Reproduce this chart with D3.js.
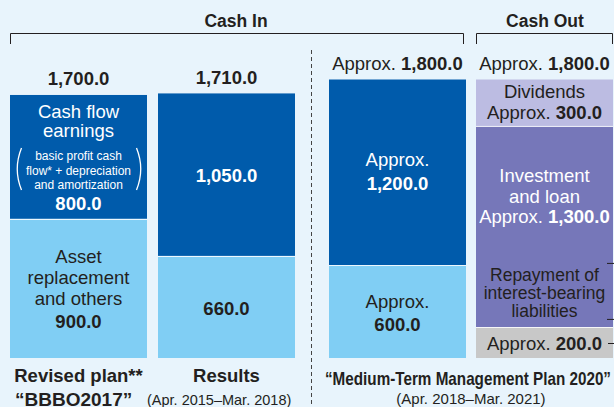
<!DOCTYPE html>
<html>
<head lang="en">
    <meta charset="UTF-8">
    <title>Cash In / Cash Out</title>
    <style>
        body { margin: 0; background: #e8f4fc; }
        svg { display: block; font-family: "Liberation Sans", Arial, Helvetica, sans-serif; }
    </style>
</head>
<body>
<svg width="614" height="407"></svg>

<script src="https://cdn.jsdelivr.net/npm/d3@7"></script>
<script>
    // columns: revised plan, results, MTP 2020 cash in, MTP 2020 cash out
    var columns = ["plan", "results", "mtpIn", "mtpOut"];
    var totals = [1700, 1710, 1800, 1800];
    var approx = [false, false, true, true];
    // cash in stacks (bottom: asset replacement, top: cash flow earnings)
    var assetReplacement = [900, 660, 600];
    var earnings = [800, 1050, 1200];
    // cash out stack, from top to bottom
    var outItems = ["Dividends", "Investment and loan", "Repayment"];
    var outValues = [300, 1300, 200];

    var ink = "#231f20";
    var fmt = d3.format(",.1f");

    var svg = d3.select("svg");

    var y = d3.scaleLinear().domain([0, 1800]).range([358, 79.5]);
    var x = d3.scaleOrdinal().domain(columns).range([10, 158, 329, 476]);
    var barW = 137;
    function cx(c) { return x(c) + barW / 2; }

    // build segments
    var segments = [];
    columns.slice(0, 3).forEach(function (c, i) {
        segments.push({col: c, y0: 0, y1: assetReplacement[i], color: "#80cef4"});
        segments.push({col: c, y0: assetReplacement[i], y1: assetReplacement[i] + earnings[i], color: "#005bab"});
    });
    var outColors = ["#bcbce2", "#7677b9", "#c8c8c8"];
    var acc = 0;
    for (var k = outValues.length - 1; k >= 0; k--) {
        segments.push({col: "mtpOut", y0: acc, y1: acc + outValues[k], color: outColors[k]});
        acc += outValues[k];
    }

    svg.selectAll("rect.seg")
        .data(segments)
        .enter()
        .append("rect")
        .attr("class", "seg")
        .attr("x", function (d) { return x(d.col); })
        .attr("y", function (d) { return y(d.y1); })
        .attr("width", barW)
        .attr("height", function (d) { return y(d.y0) - y(d.y1); })
        .attr("fill", function (d) { return d.color; });

    // white separators between stacked parts
    svg.selectAll("line.sep")
        .data(segments.filter(function (d) { return d.y0 > 0; }))
        .enter()
        .append("line")
        .attr("x1", function (d) { return x(d.col); })
        .attr("x2", function (d) { return x(d.col) + barW; })
        .attr("y1", function (d) { return Math.round(y(d.y0)) + 0.5; })
        .attr("y2", function (d) { return Math.round(y(d.y0)) + 0.5; })
        .attr("stroke", "#fff")
        .attr("stroke-opacity", 0.85);

    // text helper: "|" toggles bold
    function label(xc, yb, str, size, fill, anchor) {
        var t = svg.append("text")
            .attr("x", xc).attr("y", yb)
            .attr("text-anchor", anchor || "middle")
            .attr("font-size", size)
            .attr("fill", fill || ink);
        str.split("|").forEach(function (s, i) {
            if (s === "") return;
            t.append("tspan").attr("font-weight", i % 2 ? "bold" : "normal").text(s);
        });
        return t;
    }

    // headers + brackets
    label(236, 27, "|Cash In", 17.5);
    label(545, 27, "|Cash Out", 17.5);
    svg.append("path").attr("d", "M10.5,44V33.5H463.5V44").attr("fill", "none").attr("stroke", ink);
    svg.append("path").attr("d", "M476.5,44V33.5H612.5V44").attr("fill", "none").attr("stroke", ink);

    // dashed divider
    svg.append("line")
        .attr("x1", 311.5).attr("x2", 311.5).attr("y1", 50).attr("y2", 407)
        .attr("stroke", "#444").attr("stroke-dasharray", "4,3");

    // totals above bars
    columns.forEach(function (c, i) {
        var txt = approx[i] ? "Approx. |" + fmt(totals[i]) : "|" + fmt(totals[i]);
        label(cx(c), y(d3.max([totals[i], i < 3 ? assetReplacement[i] + earnings[i] : 1800])) - 9.5, txt, 18.5);
    });

    var fs = 18.5;

    // revised plan
    var top0 = y(assetReplacement[0] + earnings[0]);
    label(cx("plan"), top0 + 23, "Cash flow", fs, "#fff");
    label(cx("plan"), top0 + 42, "earnings", fs, "#fff");
    label(cx("plan"), top0 + 65, "basic profit cash", 12, "#fff");
    label(cx("plan"), top0 + 80, "flow* + depreciation", 12, "#fff");
    label(cx("plan"), top0 + 94, "and amortization", 12, "#fff");
    label(cx("plan"), top0 + 115, "|" + fmt(earnings[0]), fs, "#fff");
    svg.append("path").attr("d", "M21.5," + (top0 + 53) + "Q13," + (top0 + 74) + " 21.5," + (top0 + 95))
        .attr("fill", "none").attr("stroke", "#fff").attr("stroke-width", 1.3);
    svg.append("path").attr("d", "M136.5," + (top0 + 53) + "Q145," + (top0 + 74) + " 136.5," + (top0 + 95))
        .attr("fill", "none").attr("stroke", "#fff").attr("stroke-width", 1.3);
    var mid0 = (y(0) + y(assetReplacement[0])) / 2;
    label(cx("plan"), mid0 - 25.5, "Asset", fs);
    label(cx("plan"), mid0 - 4, "replacement", fs);
    label(cx("plan"), mid0 + 16.5, "and others", fs);
    label(cx("plan"), mid0 + 39.5, "|" + fmt(assetReplacement[0]), fs);

    // results
    label(cx("results"), (y(assetReplacement[1]) + y(assetReplacement[1] + earnings[1])) / 2 + 7, "|" + fmt(earnings[1]), fs, "#fff");
    label(cx("results"), (y(0) + y(assetReplacement[1])) / 2 + 8, "|" + fmt(assetReplacement[1]), fs);

    // MTP 2020 cash in
    var midIn = (y(assetReplacement[2]) + y(assetReplacement[2] + earnings[2])) / 2;
    label(cx("mtpIn"), midIn - 6, "Approx.", fs, "#fff");
    label(cx("mtpIn"), midIn + 18, "|" + fmt(earnings[2]), fs, "#fff");
    var midIn2 = (y(0) + y(assetReplacement[2])) / 2;
    label(cx("mtpIn"), midIn2 - 4, "Approx.", fs);
    label(cx("mtpIn"), midIn2 + 19, "|" + fmt(assetReplacement[2]), fs);

    // MTP 2020 cash out
    var yDiv = y(1800);
    label(cx("mtpOut"), yDiv + 18.5, outItems[0], fs);
    label(cx("mtpOut"), yDiv + 39.5, "Approx. |" + fmt(outValues[0]), fs);
    var yInv = y(1800 - outValues[0]);
    label(cx("mtpOut"), yInv + 56, "Investment", fs, "#fff");
    label(cx("mtpOut"), yInv + 77, "and loan", fs, "#fff");
    label(cx("mtpOut"), yInv + 97, "Approx. |" + fmt(outValues[1]), fs, "#fff");
    label(cx("mtpOut"), yInv + 155, "Repayment of", 17.5);
    label(cx("mtpOut"), yInv + 173.5, "interest-bearing", 17.5);
    label(cx("mtpOut"), yInv + 191.5, "liabilities", 17.5);
    label(cx("mtpOut"), (y(0) + y(outValues[2])) / 2 + 7.5, "Approx. |" + fmt(outValues[2]), fs);
    svg.append("path").attr("d", "M607," + (yInv + 137.5) + "H614.5V" + (yInv + 193.5) + "H607")
        .attr("fill", "none").attr("stroke", ink);
    svg.append("line").attr("x1", 608).attr("x2", 614).attr("y1", 343.5).attr("y2", 343.5).attr("stroke", ink);

    // bottom labels
    label(cx("plan"), 382, "|Revised plan**", 18.5);
    label(cx("results"), 382, "|Results", 18.5);
    label(15, 406, "|\u201cBBBO2017\u201d", 19, ink, "start");
    label(147, 405, "(Apr. 2015\u2013Mar. 2018)", 14.5, ink, "start");
    label(325, 385, "|\u201cMedium-Term Management Plan 2020\u201d", 19, ink, "start")
        .attr("textLength", 286).attr("lengthAdjust", "spacingAndGlyphs");
    label(471, 404, "(Apr. 2018\u2013Mar. 2021)", 15);
</script>
</body>
</html>
